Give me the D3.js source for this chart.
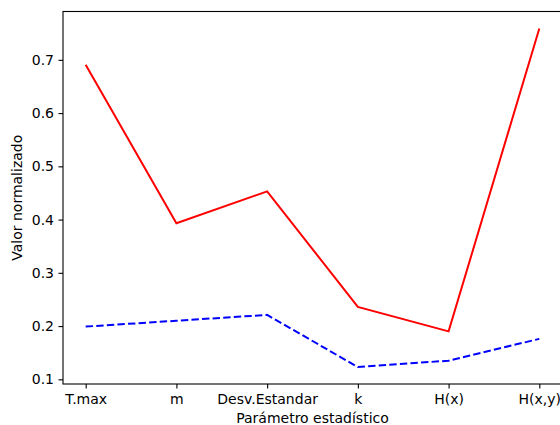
<!DOCTYPE html>
<html><head><meta charset="utf-8">
<script src="https://cdn.jsdelivr.net/npm/d3@7"></script>
<style>body{margin:0;background:#fff}svg{display:block}text{font-family:"DejaVu Sans",sans-serif}</style>
</head><body>
<script>
const categories = ["T.max","m","Desv.Estandar","k","H(x)","H(x,y)"];
const seriesRed = [0.691,0.393,0.453,0.236,0.190,0.759];
const seriesBlue = [0.199,0.210,0.221,0.123,0.135,0.176];
const yTicks = [0.1,0.2,0.3,0.4,0.5,0.6,0.7];

(function(){
const W=560,H=425;
const mL=63,mR=562,mT=11.5,mB=384;
const FS=14;
const svg=d3.select("body").append("svg").attr("width",W).attr("height",H);

const all=seriesRed.concat(seriesBlue);
const mn=d3.min(all),mx=d3.max(all),pad=(mx-mn)*0.05;
const x=d3.scaleLinear().domain([-0.25,categories.length-1+0.25]).range([mL,mR]);
const y=d3.scaleLinear().domain([mn-pad,mx+pad]).range([mB,mT]);

const line=d3.line().x((d,i)=>x(i)).y(d=>y(d));
svg.append("path").datum(seriesRed).attr("d",line).attr("fill","none").attr("stroke","#ff0000").attr("stroke-width",2);
svg.append("path").datum(seriesBlue).attr("d",line).attr("fill","none").attr("stroke","#0000ff").attr("stroke-width",2).attr("stroke-dasharray","7.4,3.2");

svg.append("rect").attr("x",mL).attr("y",mT).attr("width",mR-mL).attr("height",mB-mT).attr("fill","none").attr("stroke","#000").attr("stroke-width",1.1);

const xa=svg.append("g").attr("transform",`translate(0,${mB})`)
  .call(d3.axisBottom(x).tickValues(d3.range(categories.length)).tickFormat(i=>categories[i]).tickSize(4.5).tickPadding(5.5));
const ya=svg.append("g").attr("transform",`translate(${mL},0)`)
  .call(d3.axisLeft(y).tickValues(yTicks).tickFormat(d3.format(".1f")).tickSize(4.5).tickPadding(4.5));
[xa,ya].forEach(a=>{a.select(".domain").remove();a.selectAll("text").attr("font-size",FS).attr("fill","#000").attr("font-family","DejaVu Sans");a.selectAll("line").attr("stroke","#000").attr("stroke-width",1.1);});

svg.append("text").attr("x",(mL+mR)/2).attr("y",422.5).attr("text-anchor","middle").attr("font-size",FS).text("Parámetro estadístico");
svg.append("text").attr("transform",`translate(21.5,${(mT+mB)/2}) rotate(-90)`).attr("text-anchor","middle").attr("font-size",FS).text("Valor normalizado");
})();
</script>
</body></html>
